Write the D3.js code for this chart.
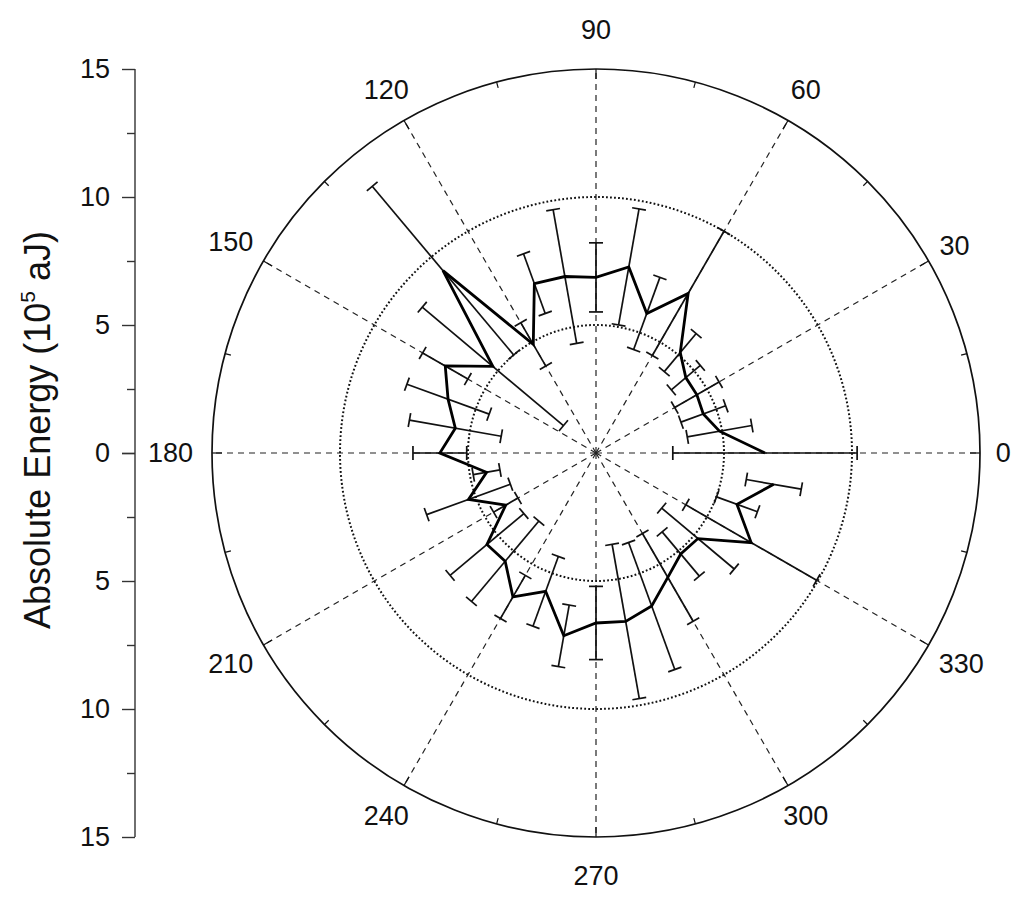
<!DOCTYPE html>
<html>
<head>
<meta charset="utf-8">
<script src="https://cdn.jsdelivr.net/npm/d3@7"></script>
<style>
  html, body { margin: 0; padding: 0; background: #fff; }
  svg { display: block; font-family: "Liberation Sans", Arial, sans-serif; }
</style>
</head>
<body>
<svg id="chart" width="1024" height="900"></svg>
<script>
// ---- data ----
const angles = [0,10,20,30,40,50,60,70,80,90,100,110,120,130,140,150,160,170,
                180,190,200,210,220,230,240,250,260,270,280,290,300,310,320,330,340,350];
const energy = [6.6,4.9,4.46,4.55,4.58,5.12,7.2,5.8,7.38,6.86,7.0,7.04,4.9,9.3,5.26,6.8,6.15,5.58,
                6.1,4.34,5.3,4.07,5.56,5.52,6.49,5.75,7.25,6.64,6.68,6.36,5.61,5.15,5.2,7.0,5.86,7.05];
const errors = [3.6,1.28,0.93,1.0,0.74,0.97,2.8,1.5,2.3,1.35,2.65,1.24,0.98,4.3,3.6,1.02,1.71,1.82,
                1.05,0.53,1.74,0.55,1.88,2.05,0.97,1.45,1.22,1.43,3.06,2.64,1.98,1.13,1.85,2.95,0.85,1.09];
const angleTicks = [0,30,60,90,120,150,180,210,240,270,300,330];
const minorAngleTicks = [15,45,75,105,135,165,195,225,255,285,315,345];
const radialGrid = [5,10];
const radiusTicks = [0,5,10,15];
const radiusMinorTicks = [2.5,7.5,12.5];
const axisTitle = "Absolute Energy (10";
const axisTitleSup = "5";
const axisTitleEnd = " aJ)";

// ---- layout ----
const cx = 596, cy = 453, R = 384;
const svg = d3.select("#chart");
const r = d3.scaleLinear().domain([0, 15]).range([0, R]);
const toRad = d => d * Math.PI / 180;
const px = (deg, v) => cx + r(v) * Math.cos(toRad(deg));
const py = (deg, v) => cy - r(v) * Math.sin(toRad(deg));

const g = svg.append("g");

// dotted grid circles
g.selectAll("circle.grid").data(radialGrid).join("circle")
  .attr("class", "grid")
  .attr("cx", cx).attr("cy", cy).attr("r", d => r(d))
  .attr("fill", "none").attr("stroke", "#111").attr("stroke-width", 2)
  .attr("stroke-dasharray", "1.8,2.2");

// radial dashed spokes
g.selectAll("line.spoke").data(angleTicks).join("line")
  .attr("class", "spoke")
  .attr("x1", cx).attr("y1", cy)
  .attr("x2", d => px(d, 15)).attr("y2", d => py(d, 15))
  .attr("stroke", "#222").attr("stroke-width", 1.2)
  .attr("stroke-dasharray", "6,5");

// outer circle
g.append("circle")
  .attr("cx", cx).attr("cy", cy).attr("r", r(15))
  .attr("fill", "none").attr("stroke", "#111").attr("stroke-width", 1.7);

// outer circle ticks
g.selectAll("line.majt").data(angleTicks).join("line")
  .attr("x1", d => px(d, 15)).attr("y1", d => py(d, 15))
  .attr("x2", d => cx + (R - 10) * Math.cos(toRad(d)))
  .attr("y2", d => cy - (R - 10) * Math.sin(toRad(d)))
  .attr("stroke", "#111").attr("stroke-width", 1.2);
g.selectAll("line.mint").data(minorAngleTicks).join("line")
  .attr("x1", d => px(d, 15)).attr("y1", d => py(d, 15))
  .attr("x2", d => cx + (R - 6) * Math.cos(toRad(d)))
  .attr("y2", d => cy - (R - 6) * Math.sin(toRad(d)))
  .attr("stroke", "#111").attr("stroke-width", 1.2);

// angle labels
const fs = 27;
const labelDist = d => {
  const w = String(d).length * 0.556 * fs;
  const t = toRad(d);
  return 398 + Math.max(1.22 * (w / 2) * Math.abs(Math.cos(t)), 25 * Math.abs(Math.sin(t)));
};
g.selectAll("text.ang").data(angleTicks).join("text")
  .attr("class", "ang")
  .attr("font-size", fs)
  .attr("fill", "#111")
  .attr("text-anchor", "middle")
  .attr("dominant-baseline", "central")
  .attr("x", d => cx + labelDist(d) * Math.cos(toRad(d)))
  .attr("y", d => cy - labelDist(d) * Math.sin(toRad(d)))
  .text(d => d);

// error bars
const capHalf = 7;
const eb = g.append("g");
angles.forEach((a, i) => {
  const lo = Math.max(0, energy[i] - errors[i]);
  const hi = energy[i] + errors[i];
  const t = toRad(a);
  const nx = -Math.sin(t), ny = -Math.cos(t); // perpendicular in screen coords
  eb.append("line")
    .attr("x1", px(a, lo)).attr("y1", py(a, lo))
    .attr("x2", px(a, hi)).attr("y2", py(a, hi))
    .attr("stroke", "#111").attr("stroke-width", 1.7);
  [lo, hi].forEach(v => {
    eb.append("line")
      .attr("x1", px(a, v) - capHalf * nx).attr("y1", py(a, v) - capHalf * ny)
      .attr("x2", px(a, v) + capHalf * nx).attr("y2", py(a, v) + capHalf * ny)
      .attr("stroke", "#111").attr("stroke-width", 1.7);
  });
});

// data line (not closed)
const line = d3.lineRadial()
  .angle((d, i) => Math.PI / 2 - toRad(angles[i]))
  .radius(d => r(d));
g.append("path")
  .attr("transform", `translate(${cx},${cy})`)
  .attr("d", line(energy))
  .attr("fill", "none").attr("stroke", "#000").attr("stroke-width", 2.8)
  .attr("stroke-linejoin", "miter");

// left radial axis
const axX = 135;
const yTop = d3.scaleLinear().domain([0, 15]).range([cy, cy - R]);
const yBot = d3.scaleLinear().domain([0, 15]).range([cy, cy + R]);
const ax = svg.append("g").attr("transform", `translate(${axX},0)`);
ax.append("line").attr("x1", 0).attr("x2", 0)
  .attr("y1", yTop(15)).attr("y2", yBot(15))
  .attr("stroke", "#333").attr("stroke-width", 1.4);
[yTop, yBot].forEach((sc, k) => {
  const major = d3.axisLeft(sc).tickValues(radiusTicks).tickSize(13).tickSizeOuter(0).tickPadding(12);
  const gm = ax.append("g").call(major);
  gm.select(".domain").remove();
  gm.selectAll(".tick line").attr("stroke", "#333").attr("stroke-width", 1.4);
  gm.selectAll(".tick text").attr("font-size", fs).attr("fill", "#111")
    .attr("font-family", "'Liberation Sans', Arial, sans-serif");
  if (k === 1) gm.selectAll(".tick").filter(d => d === 0).select("text").remove();
  const minor = d3.axisLeft(sc).tickValues(radiusMinorTicks).tickSize(8).tickFormat("");
  const gn = ax.append("g").call(minor);
  gn.select(".domain").remove();
  gn.selectAll(".tick line").attr("stroke", "#333").attr("stroke-width", 1.4);
});

// axis title
const title = svg.append("text")
  .attr("transform", `translate(50,430) rotate(-90)`)
  .attr("text-anchor", "middle")
  .attr("font-size", 36).attr("fill", "#111");
title.append("tspan").text(axisTitle);
title.append("tspan").attr("font-size", 21).attr("dy", -15).text(axisTitleSup);
title.append("tspan").attr("dy", 15).text(axisTitleEnd);
</script>
</body>
</html>
